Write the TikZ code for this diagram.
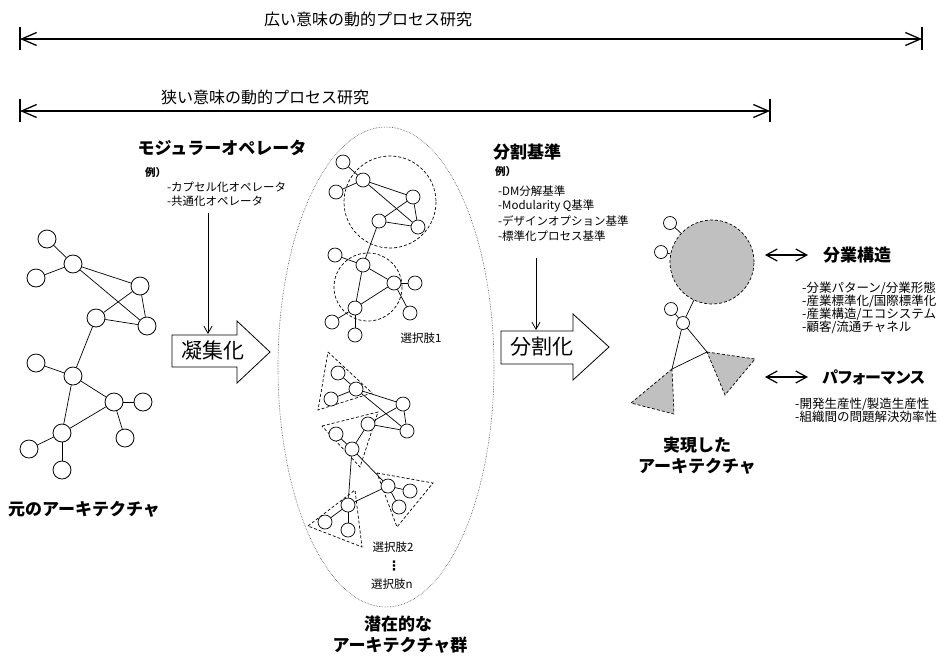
\documentclass[tikz,border=0pt]{standalone}
\usepackage{fontspec}
\setmainfont{Noto Sans CJK JP}
\newfontfamily\jpp[RawFeature=+palt]{Noto Sans CJK JP}
\newfontfamily\dvs{DejaVu Sans}
\usetikzlibrary{arrows.meta}
\definecolor{fillgray}{RGB}{192,192,192}
\begin{document}
\begin{tikzpicture}[x=1pt,y=-1pt,
  lc/.style={circle,draw,fill=white,minimum size=18pt,inner sep=0pt,line width=0.8pt},
  mc/.style={circle,draw,fill=white,minimum size=14pt,inner sep=0pt,line width=0.7pt},
  sc/.style={circle,draw,fill=white,minimum size=13pt,inner sep=0pt,line width=0.7pt},
  edge/.style={line width=0.7pt},
  dsh/.style={dash pattern=on 3pt off 2pt,line width=0.7pt},
  span/.style={line width=1.3pt,{Straight Barb[length=15pt,width=13pt]}-{Straight Barb[length=15pt,width=13pt]}},
  bar/.style={line width=1.3pt},
  dbl/.style={line width=1.2pt,{Straight Barb[length=11pt,width=12pt]}-{Straight Barb[length=11pt,width=12pt]}},
  down/.style={line width=0.8pt,-{Straight Barb[length=7pt,width=8pt]}},
  title/.style={font=\fontsize{16}{16}\selectfont,inner sep=0pt},
  hd/.style={font=\bfseries\fontsize{17}{17}\selectfont,inner sep=0pt},
  ex/.style={font=\bfseries\fontsize{10.5}{10.5}\selectfont,inner sep=0pt,anchor=west},
  sm/.style={font=\fontsize{11.5}{11.5}\selectfont,inner sep=0pt,anchor=west},
  smr/.style={font=\fontsize{12.5}{12.5}\selectfont,inner sep=0pt,anchor=west},
  big/.style={font=\fontsize{21}{21}\selectfont,inner sep=0pt},
  blockarrow/.style={draw,fill=white,line width=0.8pt}
]
\useasboundingbox (0,0) rectangle (948,657);

% ---------- top span arrows ----------
\coordinate (s1a) at (20,39); \coordinate (s1b) at (922,39);
\coordinate (s1at) at (20,27); \coordinate (s1ab) at (20,50);
\coordinate (s1bt) at (922,27); \coordinate (s1bb) at (922,50);
\draw[span] (s1a) -- (s1b);
\draw[bar] (s1at) -- (s1ab);
\draw[bar] (s1bt) -- (s1bb);
\node[title] (t1) at (368,19) {広い意味の動的プロセス研究};

\coordinate (s2a) at (20,111); \coordinate (s2b) at (770,111);
\coordinate (s2at) at (20,99); \coordinate (s2ab) at (20,122);
\coordinate (s2bt) at (770,99); \coordinate (s2bb) at (770,122);
\draw[span] (s2a) -- (s2b);
\draw[bar] (s2at) -- (s2ab);
\draw[bar] (s2bt) -- (s2bb);
\node[title] (t2) at (265,97) {狭い意味の動的プロセス研究};

% ---------- left graph ----------
\node[lc] (L1) at (47,239) {};
\node[lc] (L2) at (73,264) {};
\node[lc] (L3) at (36,278) {};
\node[lc] (L4) at (140,286) {};
\node[lc] (L5) at (96,318) {};
\node[lc] (L6) at (147,326) {};
\node[lc] (L7) at (36,363) {};
\node[lc] (L8) at (73,376) {};
\node[lc] (L9) at (114,402) {};
\node[lc] (L10) at (143,402) {};
\node[lc] (L11) at (125,438) {};
\node[lc] (L12) at (62,433) {};
\node[lc] (L13) at (29,449) {};
\node[lc] (L14) at (62,470) {};
\foreach \a/\b in {1/2,3/2,2/4,2/6,5/4,5/6,4/6,5/8,7/8,8/9,8/12,9/10,9/11,9/12,12/13,12/14}
  \draw[edge] (L\a) -- (L\b);
\node[hd] (lbl) at (84,509) {元のアーキテクチャ};

% ---------- operator text ----------
\node[hd] (op) at (222,148) {モジュラーオペレータ};
\node[ex] (opex) at (145,173) {例）};
\node[sm] (op1) at (167,187) {-カプセル化オペレータ};
\node[sm] (op2) at (167,201) {-共通化オペレータ};

% ---------- block arrow 1 ----------
\draw[blockarrow] (172,335) -- (237,335) -- (237,321) -- (270,352) -- (237,383) -- (237,367) -- (172,367) -- cycle;
\node[big] (ba1) at (213,351) {凝集化};
\coordinate (v1a) at (208,213); \coordinate (v1b) at (208,334);
\draw[down] (v1a) -- (v1b);

% ---------- ellipse ----------
\draw[densely dotted,line width=0.6pt,black!70] (386,367) ellipse [x radius=108, y radius=240];

% ---------- middle graph 1 ----------
\draw[dsh] (390,202) circle[radius=46];
\draw[dsh] (368,287) circle[radius=34];
\node[mc] (A1) at (343,162) {};
\node[mc] (A2) at (363,180) {};
\node[mc] (A3) at (336,192) {};
\node[mc] (A4) at (413,197) {};
\node[mc] (A5) at (379,221) {};
\node[mc] (A6) at (418,227) {};
\node[mc] (A7) at (335,255) {};
\node[mc] (A8) at (363,265) {};
\node[mc] (A9) at (394,283) {};
\node[mc] (A10) at (415,283) {};
\node[mc] (A11) at (410,313) {};
\node[mc] (A12) at (355,308) {};
\node[mc] (A13) at (332,322) {};
\node[mc] (A14) at (355,335) {};
\foreach \a/\b in {1/2,3/2,2/4,2/6,5/4,5/6,4/6,5/8,7/8,8/9,8/12,9/10,9/11,9/12,12/13,12/14}
  \draw[edge] (A\a) -- (A\b);
\node[sm,anchor=center] (c1) at (421,338) {選択肢1};

% ---------- middle graph 2 ----------
\draw[dsh] (328,352) -- (372,393) -- (318,410) -- cycle;
\draw[dsh] (322,426) -- (378,412) -- (360,467) -- cycle;
\draw[dsh] (377,473) -- (433,483) -- (397,527) -- cycle;
\draw[dsh] (308,526) -- (355,490) -- (362,547) -- cycle;
\node[mc] (B1) at (338,373) {};
\node[mc] (B2) at (356,389) {};
\node[mc] (B3) at (331,399) {};
\node[mc] (B4) at (403,404) {};
\node[mc] (B5) at (368,424) {};
\node[mc] (B6) at (407,431) {};
\node[mc] (B7) at (336,434) {};
\node[mc] (B8) at (352,449) {};
\node[mc] (B9) at (388,486) {};
\node[mc] (B10) at (410,491) {};
\node[mc] (B11) at (399,507) {};
\node[mc] (B12) at (348,505) {};
\node[mc] (B13) at (325,522) {};
\node[mc] (B14) at (348,530) {};
\foreach \a/\b in {1/2,3/2,2/4,2/6,5/4,5/6,4/6,5/8,7/8,8/9,8/12,9/10,9/11,9/12,12/13,12/14}
  \draw[edge] (B\a) -- (B\b);
\node[sm,anchor=center] (c2) at (393,547) {選択肢2};
\node[anchor=center,inner sep=0pt,font=\dvs\bfseries\fontsize{13}{13}\selectfont] (dots) at (394,566) {⋮};
\node[sm,anchor=center] (cn) at (392,584) {選択肢n};
\node[hd] (pot1) at (398,624) {潜在的な};
\node[hd] (pot2) at (400,645) {アーキテクチャ群};

% ---------- division criteria ----------
\node[hd,anchor=west] (dv) at (493,152) {分割基準};
\node[ex] (dvex) at (495,172) {例）};
\node[sm] (d1) at (498,191) {-DM分解基準};
\node[sm] (d2) at (498,206) {-Modularity Q基準};
\node[sm] (d3) at (498,221) {-デザインオプション基準};
\node[sm] (d4) at (498,236) {-標準化プロセス基準};

% ---------- block arrow 2 ----------
\draw[blockarrow] (501,331) -- (573,331) -- (573,314) -- (609,347) -- (573,380) -- (573,364) -- (501,364) -- cycle;
\node[big] (ba2) at (542,347) {分割化};
\coordinate (v2a) at (536,258); \coordinate (v2b) at (536,330);
\draw[down] (v2a) -- (v2b);

% ---------- right graph ----------
\node[circle,draw,dsh,fill=fillgray,minimum size=84pt,inner sep=0pt] (R0) at (712,262) {};
\coordinate (P1) at (707,352); \coordinate (P2) at (755,359); \coordinate (P3) at (725,395);
\coordinate (Q1) at (672,369); \coordinate (Q2) at (631,403); \coordinate (Q3) at (674,414);
\draw[dsh,fill=fillgray] (P1) -- (P2) -- (P3) -- cycle;
\draw[dsh,fill=fillgray] (Q1) -- (Q2) -- (Q3) -- cycle;
\node[sc] (R1) at (670,223) {};
\node[sc] (R2) at (661,252) {};
\node[sc] (R3) at (671,309) {};
\node[sc] (R4) at (683,323) {};
\draw[edge] (R1) -- (R0);
\draw[edge] (R2) -- (R0);
\draw[edge] (R4) -- (R0);
\draw[edge] (R3) -- (R4);
\draw[edge] (R4) -- (Q1);
\draw[edge] (R4) -- (P1);
\draw[edge] (Q1) -- (P1);
\node[hd] (re1) at (697,445) {実現した};
\node[hd] (re2) at (697,466) {アーキテクチャ};

% ---------- right texts ----------
\coordinate (da1) at (765,255); \coordinate (db1) at (808,255);
\draw[dbl] (da1) -- (db1);
\node[hd,anchor=west] (st) at (823,255) {分業構造};
\node[smr] (s1) at (802,288) {-分業パターン/分業形態};
\node[smr] (s2) at (802,301) {-産業標準化/国際標準化};
\node[smr] (s3) at (802,314) {-産業構造/エコシステム};
\node[smr] (s4) at (802,327) {-顧客/流通チャネル};
\coordinate (da2) at (765,377); \coordinate (db2) at (808,377);
\draw[dbl] (da2) -- (db2);
\node[hd,anchor=west,font=\bfseries\jpp\fontsize{16}{16}\selectfont] (pf) at (822,377) {パフォーマンス};
\node[smr] (p1) at (795,404) {-開発生産性/製造生産性};
\node[smr] (p2) at (795,417) {-組織間の問題解決効率性};
\end{tikzpicture}
\end{document}
